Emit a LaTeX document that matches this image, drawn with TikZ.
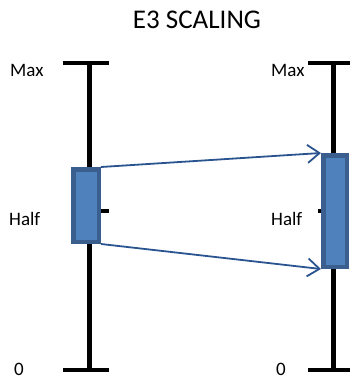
\documentclass[tikz,border=0pt]{standalone}
\usepackage{fontspec}
\setmainfont{Carlito}
\usetikzlibrary{arrows.meta,positioning}
\definecolor{barfill}{HTML}{4F81BD}
\definecolor{barline}{HTML}{3A5F8E}
\definecolor{mapline}{HTML}{2A5490}
\tikzset{
    axis line/.style={black, line width=5pt},
    axis cap/.style={black, line width=4.5pt},
    axis tick/.style={black, line width=4pt},
    range bar/.style={rectangle, draw=barline, fill=barfill, line width=4.5pt, inner sep=0pt},
    scale label/.style={font=\fontsize{19}{21}\selectfont, inner sep=0pt, anchor=base west},
    map arrow/.style={->, mapline, line width=1.8pt},
    >={Straight Barb[length=12pt,width=18pt]}
}
\begin{document}
\begin{tikzpicture}[x=1pt, y=-1pt]
	\useasboundingbox (0,0) rectangle (350,380);
	\node[font=\fontsize{27}{30}\selectfont, inner sep=0pt, anchor=base] (title) at (197,28) {E3 SCALING};
		% left scale
		\draw[axis line] (89,63) -- (89,370);
		\draw[axis cap] (63,63) -- (109,63);
		\draw[axis cap] (63,370) -- (109,370);
		\draw[axis tick] (99,211) -- (109,211);
		\node[scale label] (maxL) at (10,76) {Max};
		\node[scale label] (halfL) at (9,225) {Half};
		\node[scale label] (zeroL) at (14,375) {0};
		\node[range bar, minimum width=25.5pt, minimum height=72.5pt] (barL) at (86,205.5) {};
		% right scale
		\draw[axis line] (333,63) -- (333,370);
		\draw[axis cap] (308,63) -- (358,63);
		\draw[axis cap] (308,370) -- (358,370);
		\draw[axis tick] (318,211) -- (324,211);
		\node[scale label] (maxR) at (271,76) {Max};
		\node[scale label] (halfR) at (271,225) {Half};
		\node[scale label] (zeroR) at (276,375) {0};
		\node[range bar, minimum width=23.5pt, minimum height=111.5pt] (barR) at (335,211) {};
		% mapping
		\draw[map arrow] (barL.north east) -- (barR.north west);
		\draw[map arrow] (barL.south east) -- (barR.south west);
\end{tikzpicture}
\end{document}
